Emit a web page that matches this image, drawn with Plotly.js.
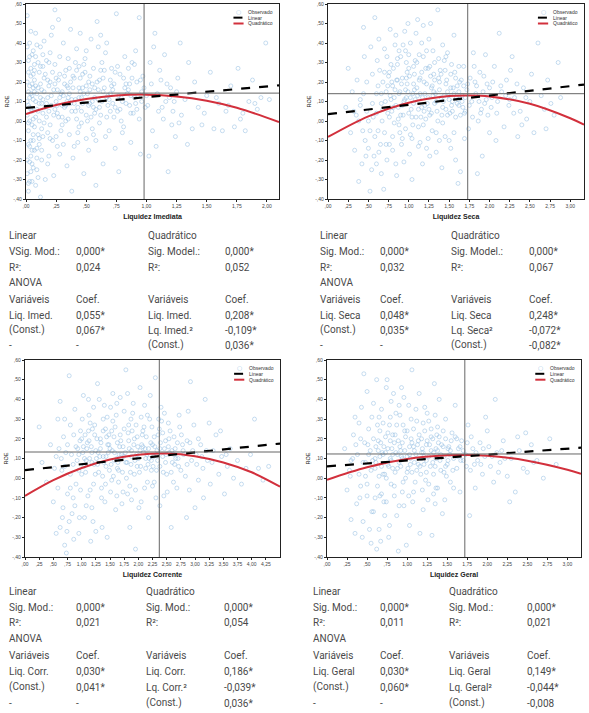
<!DOCTYPE html>
<html>
<head>
<meta charset="utf-8">
<script src="https://cdn.plot.ly/plotly-3.0.1.min.js"></script>
<style>
  body { margin: 0; background: #fff; }
  #chart { width: 589px; height: 713px; }
</style>
</head>
<body>
<div id="chart"></div>
<script>
// ROE axis, shared by the four panels
var roeTicks = [-0.4, -0.3, -0.2, -0.1, 0, 0.1, 0.2, 0.3, 0.4, 0.5, 0.6];
var roeLabels = ['-,40', '-,30', '-,20', '-,10', ',00', ',10', ',20', ',30', ',40', ',50', ',60'];

var imedTicks = [0, 0.25, 0.5, 0.75, 1, 1.25, 1.5, 1.75, 2];
var imedLabels = [',00', ',25', ',50', ',75', '1,00', '1,25', '1,50', '1,75', '2,00'];
var secaTicks = [0, 0.25, 0.5, 0.75, 1, 1.25, 1.5, 1.75, 2, 2.25, 2.5, 2.75, 3];
var secaLabels = [',00', ',25', ',50', ',75', '1,00', '1,25', '1,50', '1,75', '2,00', '2,25', '2,50', '2,75', '3,00'];
var corrTicks = [0, 0.25, 0.5, 0.75, 1, 1.25, 1.5, 1.75, 2, 2.25, 2.5, 2.75, 3, 3.25, 3.5, 3.75, 4, 4.25];
var corrLabels = [',00', ',25', ',50', ',75', '1,00', '1,25', '1,50', '1,75', '2,00', '2,25', '2,50', '2,75', '3,00', '3,25', '3,50', '3,75', '4,00', '4,25'];
var geralTicks = secaTicks;
var geralLabels = secaLabels;

var legendNames = ['Observado', 'Linear', 'Quadrático'];

// ---- Liquidez Imediata ----
var imedPts = [
  [0.01,0.20],[0.02,-0.05],[0.03,0.12],[0.02,0.31],[0.04,-0.18],[0.05,0.05],[0.01,-0.27],[0.03,0.40],[0.06,0.17],[0.04,-0.10],
  [0.02,0.08],[0.07,0.26],[0.05,-0.31],[0.08,0.02],[0.03,-0.21],[0.09,0.14],[0.06,0.36],[0.10,-0.07],[0.04,0.23],[0.07,-0.15],
  [0.11,0.09],[0.02,-0.36],[0.08,0.45],[0.12,0.19],[0.05,-0.02],[0.10,0.30],[0.13,-0.20],[0.06,0.11],[0.09,-0.25],[0.14,0.04],
  [0.01,0.54],[0.11,-0.12],[0.15,0.22],[0.08,-0.33],[0.12,0.38],[0.16,0.07],[0.13,-0.04],[0.03,0.00],[0.07,0.15],[0.14,0.28],
  [0.18,0.12],[0.20,-0.02],[0.22,0.25],[0.24,0.06],[0.26,0.16],[0.19,-0.18],[0.28,0.33],[0.30,0.02],[0.21,0.44],[0.32,0.19],
  [0.25,-0.08],[0.34,0.10],[0.27,0.52],[0.36,0.27],[0.23,-0.28],[0.38,0.05],[0.29,0.14],[0.40,0.22],[0.31,-0.12],[0.42,0.37],
  [0.33,0.08],[0.44,-0.03],[0.35,0.17],[0.46,0.12],[0.37,0.47],[0.48,0.29],[0.39,-0.19],[0.50,0.03],[0.41,0.11],[0.52,0.20],
  [0.43,-0.06],[0.54,0.42],[0.45,0.15],[0.56,0.07],[0.47,0.24],[0.58,-0.10],[0.49,0.32],[0.60,0.16],[0.51,0.00],[0.62,0.26],
  [0.53,0.09],[0.64,-0.22],[0.55,0.19],[0.66,0.35],[0.57,0.04],[0.68,0.13],[0.59,0.51],[0.70,0.21],[0.61,-0.01],[0.72,0.09],
  [0.63,0.30],[0.74,-0.14],[0.65,0.17],[0.76,0.05],[0.67,0.40],[0.78,0.24],[0.69,0.11],[0.80,-0.06],[0.71,0.18],[0.82,0.33],
  [0.73,0.02],[0.84,0.14],[0.75,0.55],[0.86,0.08],[0.77,-0.26],[0.88,0.22],[0.79,0.12],[0.90,0.29],[0.81,-0.03],[0.92,0.06],
  [0.83,0.19],[0.94,0.53],[0.85,0.27],[0.96,0.10],[0.87,-0.11],[0.98,0.17],[0.89,0.04],[0.91,0.36],[0.93,0.13],[0.95,-0.17],
  [0.97,0.23],[0.17,0.09],[0.19,0.18],[0.23,0.03],[0.27,0.21],[0.31,0.13],[0.35,0.01],[0.39,0.23],[0.43,0.07],[0.47,0.17],
  [0.51,0.14],[0.55,-0.04],[0.59,0.20],[0.63,0.10],[0.67,0.02],[0.71,0.27],[0.20,0.35],[0.26,-0.13],[0.34,-0.23],[0.44,0.28],
  [0.52,-0.15],[0.60,0.38],[0.38,-0.36],[0.16,-0.30],[0.58,-0.33],[0.66,-0.08],[0.12,-0.39],[0.24,0.57],[0.48,-0.27],
  [1.01,0.08],[1.03,0.30],[1.05,-0.05],[1.07,0.45],[1.09,0.14],[1.02,-0.18],[1.12,0.21],[1.14,0.01],[1.06,0.38],[1.16,0.10],
  [1.18,-0.26],[1.11,0.26],[1.20,0.17],[1.22,0.05],[1.15,0.34],[1.24,-0.08],[1.26,0.22],[1.19,0.12],[1.28,0.40],[1.21,-0.02],
  [1.04,0.19],[1.08,-0.13],[1.13,0.07],[1.25,0.15],[1.29,0.03],
  [1.32,0.11],[1.35,0.30],[1.38,-0.04],[1.40,0.20],[1.43,0.07],[1.46,-0.02],[1.50,0.13],[1.53,0.25],[1.56,-0.04],[1.60,0.09],
  [1.63,-0.05],[1.66,0.05],[1.70,0.18],[1.73,-0.03],[1.76,0.27],[1.78,0.01],[1.82,-0.05],[1.85,0.10],[1.88,0.21],[1.92,0.06],
  [1.95,0.12],[1.99,0.40],[2.02,0.11],[1.34,-0.12],[1.48,0.04],[1.58,0.12],[1.68,0.08],[1.80,0.04],[1.90,0.09]
];
var imedPtsCore = [
  [0.02,0.15],[0.04,0.27],[0.06,-0.07],[0.03,-0.13],[0.05,0.34],[0.08,0.10],[0.01,0.03],[0.09,-0.19],[0.07,0.21],[0.10,0.05],
  [0.12,0.28],[0.11,-0.09],[0.13,0.16],[0.15,-0.01],[0.14,0.11],[0.16,0.24],[0.18,-0.06],[0.17,0.31],[0.19,0.05],[0.21,0.13],
  [0.22,-0.10],[0.24,0.19],[0.25,0.10],[0.27,0.02],[0.28,0.24],[0.30,0.15],[0.29,-0.05],[0.32,0.07],[0.33,0.26],[0.35,0.12],
  [0.36,-0.07],[0.37,0.20],[0.40,0.09],[0.41,0.30],[0.42,0.01],[0.45,0.22],[0.46,0.05],[0.48,0.14],[0.50,-0.09],[0.49,0.25],
  [0.53,0.16],[0.54,0.02],[0.56,0.27],[0.57,0.12],[0.58,0.06],[0.61,0.21],[0.62,0.03],[0.64,0.15],[0.65,0.26],[0.68,0.08],
  [0.69,-0.05],[0.70,0.14],[0.73,0.19],[0.74,0.07],[0.76,0.28],[0.77,0.13],[0.79,0.00],[0.81,0.22],[0.83,0.09],[0.85,0.16],
  [0.87,0.04],[0.88,0.30],[0.90,0.12],[0.92,0.20],[0.94,0.01],[0.96,0.15],[0.99,0.07],[0.15,0.41],[0.22,0.48],[0.31,0.40],
  [0.45,0.45],[0.18,-0.22],[0.28,-0.17],[0.40,-0.13],[0.06,-0.24],[0.03,-0.31],[0.10,-0.29],[0.04,0.46],[0.09,0.39],[0.62,0.44],
  [0.05,0.13],[0.08,0.18],[0.11,0.00],[0.07,-0.03],[0.13,0.09],[0.20,0.20],[0.26,0.08],[0.34,0.18],[0.38,0.11],[0.44,0.17],
  [0.52,0.08],[0.60,0.11],[0.72,0.16],[0.80,0.10],[0.86,0.19],[1.00,0.13],[1.10,0.05],[1.17,0.19],[1.23,0.10],[1.27,-0.01]
];
var imedPtsDense = [
  [0.01,0.10],[0.02,-0.12],[0.03,0.18],[0.01,-0.20],[0.04,0.06],[0.02,0.25],[0.05,-0.15],[0.03,0.33],[0.06,0.01],[0.04,-0.26],
  [0.01,0.38],[0.05,0.19],[0.02,-0.01],[0.06,-0.10],[0.03,0.07],[0.07,0.29],[0.02,-0.32],[0.04,0.14],[0.06,0.24],[0.05,-0.22],
  [0.09,0.06],[0.10,0.17],[0.12,0.12],[0.14,-0.08],[0.15,0.15],[0.17,0.02],[0.18,0.21],[0.21,0.08],[0.23,0.16],[0.25,0.22],
  [0.26,0.04],[0.28,0.12],[0.30,0.08],[0.32,0.23],[0.33,0.00],[0.36,0.14],[0.37,0.09],[0.39,0.17],[0.41,0.05],[0.42,0.26],
  [0.44,0.12],[0.46,-0.01],[0.47,0.09],[0.50,0.18],[0.53,0.23],[0.55,0.10],[0.57,0.17],[0.61,0.07],[0.64,0.22],[0.67,0.12],
  [0.70,0.05],[0.74,0.25],[0.78,0.06],[0.82,0.17],[0.87,0.13],[0.91,0.09],[0.95,0.21],[0.08,0.33],[0.11,0.25],[0.14,0.34],
  [0.19,0.30],[0.24,0.29],[0.35,0.32],[0.50,0.36],[0.13,-0.15],[0.20,-0.09],[0.30,-0.02],[0.43,-0.11],[0.56,-0.07],[0.09,-0.14]
];
var imedLinX = [0, 2.1];
var imedLinY = [0.067, 0.183];
var imedQuadX = [0, 0.25, 0.5, 0.75, 1.0, 1.25, 1.5, 1.75, 2.1];
var imedQuadY = [0.036, 0.082, 0.113, 0.131, 0.135, 0.126, 0.104, 0.068, -0.005];
var imedMean = [0.98, 0.143];
var imedTable = [
  ['Linear', '', 'Quadrático', ''],
  ['VSig. Mod.:', '0,000*', 'Sig. Model.:', '0,000*'],
  ['R²:', '0,024', 'R²:', '0,052'],
  ['ANOVA', '', '', ''],
  ['Variáveis', 'Coef.', 'Variáveis', 'Coef.'],
  ['Liq. Imed.', '0,055*', 'Liq. Imed.', '0,208*'],
  ['(Const.)', '0,067*', 'Lq. Imed.²', '-0,109*'],
  ['-', '-', '(Const.)', '0,036*']
];

// ---- Liquidez Seca ----
var secaPts = [
  [0.22,0.07],[0.25,0.27],[0.28,-0.06],[0.30,0.15],[0.33,-0.15],[0.35,0.03],[0.38,-0.31],[0.40,0.11],[0.42,-0.22],[0.44,0.48],
  [0.46,-0.10],[0.48,0.20],[0.50,0.00],[0.52,-0.36],[0.45,0.33],[0.36,0.21],[0.55,0.09],[0.57,-0.18],[0.58,0.53],[0.60,0.14],
  [0.62,-0.05],[0.64,0.26],[0.66,-0.27],[0.68,0.06],[0.70,0.37],[0.72,-0.12],[0.74,0.18],[0.76,0.02],[0.78,0.29],[0.80,-0.08],
  [0.82,0.12],[0.84,0.44],[0.86,0.21],[0.88,-0.02],[0.90,0.33],[0.92,0.08],[0.94,-0.21],[0.96,0.16],[0.98,0.25],[1.00,0.04],
  [1.02,0.40],[1.04,-0.09],[1.06,0.19],[1.08,0.11],[1.10,0.30],[1.12,-0.03],[1.14,0.22],[1.16,0.07],[1.18,0.49],[1.20,0.14],
  [1.22,-0.14],[1.24,0.27],[1.26,0.03],[1.28,0.17],[1.30,0.36],[1.32,0.09],[1.34,-0.06],[1.36,0.57],[1.38,0.20],[1.40,0.12],
  [1.42,-0.01],[1.44,0.31],[1.46,0.06],[1.48,0.15],[1.50,-0.10],[1.52,0.24],[1.54,0.10],[1.56,0.44],[1.58,0.02],[1.60,0.18],
  [1.62,0.08],[1.64,-0.26],[1.66,0.13],[1.68,0.28],[1.70,0.05],[1.72,0.16],[1.74,-0.04],[1.76,0.22],[1.78,0.10],[1.80,0.35],
  [0.71,0.10],[0.75,0.23],[0.79,0.05],[0.83,0.16],[0.87,0.01],[0.91,0.19],[0.95,0.11],[0.99,0.15],[1.03,0.06],[1.07,0.24],
  [1.11,0.13],[1.15,0.02],[1.19,0.20],[1.23,0.09],[1.27,0.23],[1.31,0.15],[1.35,0.05],[1.39,0.26],[1.43,0.10],[1.47,0.21],
  [1.51,0.04],[1.55,0.17],[1.59,0.12],[1.63,0.20],[1.67,0.07],[0.81,0.27],[0.89,-0.06],[0.97,0.30],[1.05,-0.02],[1.13,0.34],
  [1.21,0.01],[1.29,-0.05],[1.37,0.32],[1.45,-0.08],[1.53,0.29],[0.93,0.39],[1.01,-0.17],[1.09,0.45],[1.17,-0.22],[0.73,-0.20],
  [0.85,-0.28],[0.61,0.31],[0.65,-0.12],[0.77,0.47],[1.25,0.42],[1.41,-0.24],[1.61,-0.32],[0.53,0.38],[1.11,0.52],[0.69,-0.35],
  [1.83,0.14],[1.86,0.00],[1.88,0.25],[1.91,-0.18],[1.94,0.09],[1.97,0.19],[2.00,-0.06],[2.03,0.12],[2.06,0.28],[2.09,0.04],
  [2.12,0.45],[2.15,0.15],[2.18,-0.03],[2.21,0.21],[2.24,0.08],[2.28,0.33],[2.31,0.12],[2.35,-0.08],[2.38,0.05],[2.42,0.17],
  [2.46,0.01],[2.50,0.10],[2.55,-0.06],[2.60,0.40],[2.64,0.13],[2.68,0.06],[2.72,0.21],[2.76,0.09],[2.80,0.03],[2.85,0.30],
  [2.88,0.12],[1.85,-0.27],[1.95,0.34],[2.08,-0.10],[2.26,0.26],[2.40,-0.02],[2.52,0.24],[2.70,-0.04],[1.90,0.06],[2.00,0.17]
];
var secaPtsCore = [
  [0.72,0.15],[0.74,0.04],[0.76,0.25],[0.78,0.11],[0.80,0.18],[0.82,-0.01],[0.84,0.08],[0.86,0.29],[0.88,0.14],[0.90,0.03],
  [0.92,0.22],[0.94,0.10],[0.96,-0.04],[0.98,0.19],[1.00,0.27],[1.02,0.12],[1.04,0.02],[1.06,0.09],[1.08,0.31],[1.10,0.17],
  [1.12,0.06],[1.14,0.14],[1.16,0.25],[1.18,-0.02],[1.20,0.08],[1.22,0.19],[1.24,0.12],[1.26,0.28],[1.28,0.04],[1.30,0.13],
  [1.32,0.21],[1.34,0.10],[1.36,0.00],[1.38,0.16],[1.40,0.24],[1.42,0.07],[1.44,0.13],[1.46,0.19],[1.48,0.03],[1.50,0.11],
  [1.52,0.17],[1.54,0.05],[1.56,0.14],[1.58,0.22],[1.60,0.09],[1.62,0.15],[1.64,0.03],[1.66,0.10],[1.68,0.18],[1.70,0.12],
  [0.50,-0.14],[0.54,-0.25],[0.58,-0.08],[0.47,-0.18],[0.60,-0.22],[0.43,-0.05],[0.56,0.02],[0.63,-0.16],[0.67,0.00],[0.40,0.08],
  [0.88,0.36],[0.95,0.46],[1.00,0.34],[1.16,0.40],[1.22,0.36],[1.27,0.50],[1.42,0.39],[1.48,0.35],[0.70,0.25],[0.83,0.39],
  [0.80,-0.15],[0.91,-0.12],[1.04,-0.30],[1.14,-0.11],[1.26,-0.18],[1.34,-0.16],[1.52,-0.14],[1.58,-0.20],[1.69,-0.09],[1.75,0.08],
  [1.79,0.02],[1.82,0.20],[1.87,0.10],[1.92,0.15],[1.98,0.03],[2.04,0.20],[2.10,0.10],[2.20,0.13],[2.30,0.04],[2.45,0.12],
  [0.62,0.18],[0.66,0.09],[0.68,0.20],[0.73,0.33],[0.79,0.20],[0.87,0.07],[0.97,0.22],[1.07,0.16],[1.19,0.05],[1.31,0.24]
];
var secaPtsDense = [
  [0.77,0.13],[0.81,0.07],[0.85,0.21],[0.89,0.15],[0.93,0.03],[0.97,0.12],[1.01,0.23],[1.05,0.14],[1.09,0.02],[1.13,0.21],
  [1.17,0.12],[1.21,0.27],[1.25,0.06],[1.29,0.18],[1.33,0.14],[1.37,0.22],[1.41,0.03],[1.45,0.26],[1.49,0.13],[1.53,0.08],
  [1.57,0.25],[1.61,0.11],[1.65,0.21],[1.69,0.04],[1.73,0.19],[0.86,0.32],[0.96,0.36],[1.06,0.28],[1.18,0.33],[1.32,0.30],
  [1.46,0.33],[1.62,0.28],[0.92,-0.09],[1.02,-0.07],[1.12,-0.13],[1.24,-0.09],[1.38,-0.10],[1.56,-0.06],[0.66,0.14],[0.60,0.04],
  [0.55,0.24],[0.48,0.05],[0.44,0.14],[0.38,0.00],[0.32,0.05],[0.52,-0.05],[0.70,-0.06],[0.76,-0.12],[1.84,0.18],[1.89,0.04],
  [1.96,0.11],[2.02,0.07],[2.14,0.18],[2.25,0.11],[2.34,0.19],[1.81,0.28],[1.93,0.23],[0.63,0.42],[0.99,0.50],[0.84,-0.22]
];
var secaLinX = [0, 3.17];
var secaLinY = [0.035, 0.187];
var secaQuadX = [0, 0.5, 1.0, 1.5, 1.75, 2.0, 2.5, 3.0, 3.17];
var secaQuadY = [-0.082, 0.024, 0.094, 0.128, 0.131, 0.126, 0.088, 0.014, -0.019];
var secaMean = [1.73, 0.140];
var secaTable = [
  ['Linear', '', 'Quadrático', ''],
  ['Sig. Mod.:', '0,000*', 'Sig. Model.:', '0,000*'],
  ['R²:', '0,032', 'R²:', '0,067'],
  ['ANOVA', '', '', ''],
  ['Variáveis', 'Coef.', 'Variáveis', 'Coef.'],
  ['Liq. Seca', '0,048*', 'Liq. Seca', '0,248*'],
  ['(Const.)', '0,035*', 'Lq. Seca²', '-0,072*'],
  ['-', '-', '(Const.)', '-0,082*']
];

// ---- Liquidez Corrente ----
var corrPts = [
  [0.25,0.26],[0.30,0.08],[0.38,-0.02],[0.45,0.17],[0.50,-0.12],[0.55,0.11],[0.58,0.30],[0.62,-0.25],[0.65,0.04],[0.68,0.21],
  [0.70,-0.34],[0.72,0.13],[0.75,-0.08],[0.78,0.52],[0.80,0.27],[0.83,-0.18],[0.85,0.07],[0.88,0.35],[0.90,-0.03],[0.93,0.15],
  [0.95,-0.28],[0.98,0.24],[1.00,0.02],[1.03,0.42],[1.05,0.10],[1.08,-0.14],[1.10,0.18],[1.13,0.32],[1.15,-0.06],[1.18,0.08],
  [1.20,-0.22],[1.23,0.27],[1.25,0.14],[1.28,0.48],[1.30,0.03],[1.33,0.20],[1.35,-0.10],[1.38,0.11],[1.40,0.37],[1.43,0.06],
  [1.45,-0.30],[1.48,0.22],[1.50,0.15],[1.53,-0.01],[1.55,0.29],[1.58,0.09],[1.60,-0.16],[1.63,0.18],[1.65,0.04],[1.68,0.41],
  [1.70,0.12],[1.73,-0.07],[1.75,0.25],[1.78,0.55],[1.80,0.08],[1.83,0.19],[1.85,-0.04],[1.88,0.14],[1.90,0.33],[1.93,0.02],
  [1.95,-0.36],[1.98,0.21],[2.00,0.10],[2.03,0.46],[2.05,-0.12],[2.08,0.16],[2.10,0.26],[2.13,0.05],[2.15,0.12],[2.18,-0.20],
  [2.20,0.30],[2.23,0.09],[2.25,0.17],[2.28,-0.02],[2.30,0.51],[2.33,0.14],[2.35,0.22],[2.38,0.06],[2.40,0.36],[2.43,0.11],
  [2.45,-0.09],[2.48,0.19],[2.50,0.02],[2.53,0.28],[2.55,0.13],[2.58,-0.25],[2.60,0.08],[2.63,0.21],[2.65,0.15],[2.68,-0.05],
  [2.70,0.10],[2.73,0.26],[2.75,0.04],[2.78,0.17],[2.80,0.12],
  [0.92,0.09],[0.97,0.19],[1.02,0.13],[1.07,0.03],[1.12,0.24],[1.17,0.16],[1.22,0.07],[1.27,0.20],[1.32,0.11],[1.37,0.01],
  [1.42,0.25],[1.47,0.13],[1.52,0.07],[1.57,0.21],[1.62,0.10],[1.67,0.16],[1.72,0.03],[1.77,0.13],[1.82,0.23],[1.87,0.07],
  [1.92,0.17],[1.97,0.12],[2.02,0.03],[2.07,0.22],[2.12,0.15],[2.17,0.07],[2.22,0.18],[2.27,0.11],[2.32,0.04],[2.37,0.25],
  [1.15,0.28],[1.45,0.31],[1.75,0.34],[2.05,0.31],[1.35,-0.05],[1.65,-0.02],[1.95,-0.06],[2.25,-0.04],[0.85,-0.10],[1.05,-0.20],
  [0.75,0.17],[0.67,-0.15],[0.62,0.39],[1.55,0.43],[1.25,-0.27],[1.85,-0.25],[0.73,-0.38],
  [2.83,0.01],[2.86,0.19],[2.90,-0.06],[2.94,0.09],[2.98,0.27],[3.02,0.12],[3.06,-0.01],[3.10,0.17],[3.14,0.05],[3.18,0.40],
  [3.22,0.09],[3.27,-0.03],[3.32,0.14],[3.37,0.22],[3.42,0.02],[3.47,0.11],[3.52,-0.08],[3.57,0.06],[3.62,0.15],[3.68,0.00],
  [3.75,0.09],[3.82,-0.03],[3.90,0.05],[3.98,0.12],[4.05,0.30],[4.12,0.05],[4.20,-0.01],[4.30,0.06],[2.88,0.34],[3.00,-0.15],
  [3.25,0.28],[2.92,0.49],[3.45,0.24],[2.85,-0.20],[3.15,-0.10]
];
var corrPtsCore = [
  [0.95,0.12],[1.00,0.20],[1.04,0.06],[1.09,0.15],[1.14,0.10],[1.19,0.25],[1.24,0.02],[1.29,0.13],[1.34,0.18],[1.39,0.08],
  [1.44,0.21],[1.49,0.04],[1.54,0.14],[1.59,0.26],[1.64,0.08],[1.69,0.19],[1.74,0.11],[1.79,0.00],[1.84,0.15],[1.89,0.24],
  [1.94,0.09],[1.99,0.16],[2.04,0.06],[2.09,0.13],[2.14,0.21],[2.19,0.10],[2.24,0.26],[2.29,0.16],[2.34,0.09],[2.39,0.18],
  [2.44,0.03],[2.49,0.12],[2.54,0.20],[2.59,0.14],[2.64,0.07],[2.69,0.18],[1.01,0.30],[1.21,0.36],[1.31,0.40],[1.51,0.36],
  [1.61,0.32],[1.81,0.43],[1.91,0.38],[2.11,0.37],[2.21,0.42],[2.41,0.29],[1.11,-0.09],[1.21,-0.03],[1.41,-0.12],[1.51,-0.07],
  [1.71,-0.13],[1.81,-0.08],[2.01,-0.15],[2.11,-0.05],[2.31,-0.10],[2.51,-0.07],[0.80,0.02],[0.78,-0.22],[0.88,-0.14],[0.98,-0.06],
  [0.70,0.06],[0.82,0.12],[0.74,-0.27],[0.86,-0.31],[0.96,-0.20],[1.16,-0.32],[1.36,-0.25],[0.66,-0.20],[0.60,0.15],[0.52,0.05],
  [2.56,0.24],[2.66,0.10],[2.76,0.22],[2.86,0.07],[2.96,0.14],[3.06,0.20],[3.20,0.14],[2.72,0.32],[2.62,-0.02],[2.46,0.33],
  [1.26,0.10],[1.46,0.17],[1.66,0.12],[1.86,0.03],[2.06,0.17],[2.26,0.06],[2.46,0.15],[1.06,0.22],[1.56,0.01],[1.96,0.27]
];
var corrPtsDense = [
  [1.03,0.16],[1.08,0.09],[1.13,0.19],[1.18,0.13],[1.23,0.22],[1.28,0.07],[1.33,0.15],[1.38,0.24],[1.43,0.11],[1.48,0.17],
  [1.53,0.24],[1.58,0.13],[1.63,0.05],[1.68,0.22],[1.73,0.16],[1.78,0.08],[1.83,0.27],[1.88,0.11],[1.93,0.20],[1.98,0.06],
  [2.03,0.14],[2.08,0.24],[2.13,0.10],[2.18,0.15],[2.23,0.04],[2.28,0.21],[2.33,0.12],[2.38,0.15],[2.43,0.23],[2.48,0.08],
  [2.53,0.16],[2.58,0.03],[1.12,0.40],[1.38,0.30],[1.62,0.38],[1.87,0.30],[2.16,0.32],[2.36,0.30],[1.18,-0.15],[1.42,-0.03],
  [1.62,-0.09],[1.88,-0.11],[2.16,-0.02],[2.38,-0.14],[0.90,0.16],[0.95,0.04],[0.86,0.22],[0.80,-0.05],[0.64,0.10],[0.70,0.30],
  [2.63,0.12],[2.71,0.06],[2.79,0.14],[2.91,0.18],[3.03,0.07],[3.12,0.11],[3.30,0.08],[3.55,0.12],[0.58,-0.05],[0.55,-0.28]
];
var corrLinX = [0, 4.5];
var corrLinY = [0.041, 0.176];
var corrQuadX = [0, 0.5, 1.0, 1.5, 2.0, 2.5, 3.0, 3.5, 4.0, 4.5];
var corrQuadY = [-0.090, -0.010, 0.052, 0.095, 0.119, 0.125, 0.112, 0.080, 0.030, -0.043];
var corrMean = [2.37, 0.133];
var corrTable = [
  ['Linear', '', 'Quadrático', ''],
  ['Sig. Mod.:', '0,000*', 'Sig. Mod.:', '0,000*'],
  ['R²:', '0,021', 'R²:', '0,054'],
  ['ANOVA', '', '', ''],
  ['Variáveis', 'Coef.', 'Variáveis', 'Coef.'],
  ['Liq. Corr.', '0,030*', 'Liq. Corr.', '0,186*'],
  ['(Const.)', '0,041*', 'Lq. Corr.²', '-0,039*'],
  ['-', '-', '(Const.)', '0,036*']
];

// ---- Liquidez Geral ----
var geralPts = [
  [0.22,0.15],[0.25,-0.06],[0.28,0.04],[0.30,-0.21],[0.32,0.10],[0.35,0.31],[0.37,-0.13],[0.40,0.02],[0.42,0.20],[0.44,-0.30],
  [0.46,0.53],[0.48,0.08],[0.50,-0.03],[0.52,0.25],[0.54,0.14],[0.56,-0.17],[0.58,0.38],[0.60,0.05],[0.62,-0.36],[0.64,0.19],
  [0.66,0.11],[0.68,-0.08],[0.70,0.28],[0.72,0.02],[0.74,0.46],[0.76,0.15],[0.78,-0.24],[0.80,0.09],[0.82,0.22],[0.84,-0.04],
  [0.86,0.33],[0.88,0.12],[0.90,-0.14],[0.92,0.06],[0.94,0.18],[0.96,0.41],[0.98,0.00],[1.00,0.24],[1.02,-0.09],[1.04,0.10],
  [1.06,0.55],[1.08,0.16],[1.10,-0.02],[1.12,0.29],[1.14,0.07],[1.16,-0.28],[1.18,0.20],[1.20,0.13],[1.22,0.36],[1.24,0.03],
  [1.26,-0.11],[1.28,0.17],[1.30,0.25],[1.32,0.08],[1.34,0.48],[1.36,-0.05],[1.38,0.14],[1.40,0.21],[1.42,0.04],[1.44,-0.18],
  [1.46,0.11],[1.48,0.30],[1.50,0.07],[1.52,0.16],[1.54,-0.02],[1.56,0.23],[1.58,0.10],[1.60,0.37],[1.62,0.05],[1.64,0.15],
  [1.66,-0.07],[1.68,0.19],[1.70,0.09],
  [0.57,0.09],[0.61,0.16],[0.65,0.01],[0.69,0.13],[0.73,0.21],[0.77,0.06],[0.81,0.15],[0.85,0.03],[0.89,0.19],[0.93,0.11],
  [0.97,0.14],[1.01,0.05],[1.05,0.20],[1.09,0.08],[1.13,0.17],[1.17,0.02],[1.21,0.11],[1.25,0.19],[1.29,0.06],[1.33,0.13],
  [1.37,0.22],[1.41,0.09],[1.45,0.16],[1.49,0.01],[1.53,0.12],[0.63,0.27],[0.79,0.31],[0.95,0.27],[1.11,0.35],[1.27,0.29],
  [0.71,-0.12],[0.87,-0.19],[1.03,-0.24],[1.19,-0.06],[1.35,-0.13],[0.53,-0.26],[0.67,-0.32],[0.83,0.43],[0.99,-0.34],[1.31,-0.29],
  [0.43,0.36],[0.75,0.50],
  [1.73,0.12],[1.76,0.27],[1.79,0.04],[1.82,0.15],[1.85,-0.05],[1.88,0.09],[1.91,0.18],[1.94,0.02],[1.97,0.11],[2.00,0.24],
  [2.04,0.06],[2.08,-0.02],[2.12,0.13],[2.16,0.08],[2.20,0.19],[2.25,0.01],[2.30,0.10],[2.35,-0.07],[2.40,0.14],[2.45,0.05],
  [2.50,0.03],[2.55,0.17],[2.62,0.09],[2.70,0.00],[2.78,0.20],[2.86,0.07],[1.78,-0.19],[1.98,0.31],[2.28,-0.12],[2.10,0.40],
  [2.48,0.23]
];
var geralPtsCore = [
  [0.52,0.12],[0.55,0.04],[0.58,0.20],[0.60,0.10],[0.63,-0.04],[0.66,0.24],[0.68,0.06],[0.71,0.16],[0.74,0.00],[0.76,0.23],
  [0.79,0.10],[0.82,0.05],[0.84,0.18],[0.87,0.27],[0.90,0.08],[0.92,0.14],[0.95,-0.02],[0.98,0.21],[1.00,0.11],[1.03,0.16],
  [1.06,0.03],[1.08,0.25],[1.11,0.12],[1.14,0.19],[1.16,0.06],[1.19,0.15],[1.22,0.24],[1.24,0.09],[1.27,-0.03],[1.30,0.14],
  [1.32,0.20],[1.35,0.06],[1.38,0.26],[1.40,0.11],[1.43,0.17],[1.46,0.03],[1.48,0.20],[1.51,0.09],[1.54,0.14],[1.57,0.04],
  [1.60,0.21],[1.63,0.11],[1.66,0.16],[0.56,0.31],[0.68,0.35],[0.80,0.39],[0.91,0.32],[1.02,0.37],[1.15,0.43],[1.25,0.33],
  [1.40,0.40],[0.60,-0.10],[0.72,-0.19],[0.84,-0.09],[0.96,-0.14],[1.08,-0.07],[1.20,-0.16],[1.33,-0.08],[1.47,-0.11],[1.58,-0.05],
  [0.38,0.12],[0.41,-0.10],[0.47,0.18],[0.35,-0.28],[0.45,-0.22],[0.55,-0.33],[0.65,-0.26],[0.77,-0.30],[0.89,-0.37],[0.50,0.44],
  [0.62,0.50],[0.93,0.46],[0.33,0.22],[0.29,0.01],[0.40,0.28],[1.70,0.14],[1.74,0.06],[1.80,0.21],[1.86,0.13],[1.92,0.07],
  [2.02,0.16],[2.14,0.03],[2.22,0.10],[2.38,0.21],[2.58,0.08],[0.70,0.12],[0.86,0.13],[1.04,0.07],[1.18,0.10],[1.36,0.15]
];
var geralPtsDense = [
  [0.61,0.08],[0.64,0.14],[0.67,0.18],[0.70,0.02],[0.73,0.13],[0.76,0.07],[0.79,0.19],[0.82,0.12],[0.85,0.22],[0.88,0.05],
  [0.91,0.16],[0.94,0.10],[0.97,0.24],[1.00,0.03],[1.03,0.12],[1.06,0.18],[1.09,0.14],[1.12,0.04],[1.15,0.22],[1.18,0.13],
  [1.21,0.07],[1.24,0.17],[1.27,0.11],[1.30,0.21],[1.33,0.02],[1.36,0.10],[1.39,0.18],[1.42,0.12],[1.45,0.24],[1.48,0.06],
  [1.51,0.15],[1.55,0.19],[0.65,0.31],[0.78,0.27],[0.90,0.37],[1.05,0.30],[1.20,0.28],[1.35,0.32],[0.66,-0.09],[0.80,-0.03],
  [0.94,-0.07],[1.07,-0.12],[1.23,-0.01],[1.38,-0.05],[0.48,0.01],[0.51,0.17],[0.45,0.08],[0.42,-0.04],[0.36,0.17],[0.30,0.09],
  [1.62,0.20],[1.67,0.09],[1.75,0.18],[1.84,0.07],[1.95,0.15],[2.06,0.11],[2.18,0.14],[0.58,-0.17],[0.74,-0.12],[0.50,-0.09]
];
var geralLinX = [0, 3.17];
var geralLinY = [0.060, 0.155];
var geralQuadX = [0, 0.5, 1.0, 1.5, 1.75, 2.0, 2.5, 3.0, 3.17];
var geralQuadY = [-0.008, 0.056, 0.097, 0.116, 0.118, 0.114, 0.089, 0.043, 0.022];
var geralMean = [1.72, 0.123];
var geralTable = [
  ['Linear', '', 'Quadrático', ''],
  ['Sig. Mod.:', '0,000*', 'Sig. Mod.:', '0,000*'],
  ['R²:', '0,011', 'R²:', '0,021'],
  ['ANOVA', '', '', ''],
  ['Variáveis', 'Coef.', 'Variáveis', 'Coef.'],
  ['Liq. Geral', '0,030*', 'Liq. Geral', '0,149*'],
  ['(Const.)', '0,060*', 'Lq. Geral²', '-0,044*'],
  ['-', '-', '(Const.)', '-0,008']
];

var W = 589, H = 713;
var panels = [
  {title: 'Liquidez Imediata', pts: imedPts.concat(imedPtsCore, imedPtsDense), linX: imedLinX, linY: imedLinY, qX: imedQuadX, qY: imedQuadY,
   mean: imedMean, ticks: imedTicks, labels: imedLabels, xmax: 2.1, table: imedTable,
   box: [26, 279, 4, 199], cols: [7, 74, 146, 223], rows: [235, 251, 267, 282, 299, 315, 330, 345]},
  {title: 'Liquidez Seca', pts: secaPts.concat(secaPtsCore, secaPtsDense), linX: secaLinX, linY: secaLinY, qX: secaQuadX, qY: secaQuadY,
   mean: secaMean, ticks: secaTicks, labels: secaLabels, xmax: 3.17, table: secaTable,
   box: [328, 584, 4, 199], cols: [318, 378, 449, 527], rows: [235, 251, 267, 282, 299, 315, 330, 345]},
  {title: 'Liquidez Corrente', pts: corrPts.concat(corrPtsCore, corrPtsDense), linX: corrLinX, linY: corrLinY, qX: corrQuadX, qY: corrQuadY,
   mean: corrMean, ticks: corrTicks, labels: corrLabels, xmax: 4.5, table: corrTable,
   box: [25, 280, 360, 557], cols: [7, 74, 144, 222], rows: [591, 607, 622, 638, 655, 671, 687, 703]},
  {title: 'Liquidez Geral', pts: geralPts.concat(geralPtsCore, geralPtsDense), linX: geralLinX, linY: geralLinY, qX: geralQuadX, qY: geralQuadY,
   mean: geralMean, ticks: geralTicks, labels: geralLabels, xmax: 3.17, table: geralTable,
   box: [327, 581, 360, 557], cols: [311, 378, 447, 525], rows: [591, 607, 622, 638, 655, 671, 687, 703]}
];

var data = [];
var shapes = [];
var annotations = [];
var layout = {
  width: W, height: H,
  margin: {l: 0, r: 0, t: 0, b: 0, pad: 0},
  paper_bgcolor: '#fff', plot_bgcolor: '#fff',
  showlegend: false,
  font: {family: 'Liberation Sans, Arial, sans-serif', color: '#333'}
};

panels.forEach(function(p, i) {
  var n = i === 0 ? '' : String(i + 1);
  var xa = 'x' + n, ya = 'y' + n;

  data.push({
    x: p.pts.map(function(d) { return d[0]; }),
    y: p.pts.map(function(d) { return d[1]; }),
    xaxis: xa, yaxis: ya,
    type: 'scatter', mode: 'markers', name: legendNames[0],
    marker: {symbol: 'circle-open', size: 4, color: 'rgba(140,185,225,0.55)', line: {width: 0.9}}
  });
  data.push({
    x: p.qX, y: p.qY, xaxis: xa, yaxis: ya,
    type: 'scatter', mode: 'lines', name: legendNames[2],
    line: {color: '#d2303c', width: 2, shape: 'spline'}
  });
  data.push({
    x: p.linX, y: p.linY, xaxis: xa, yaxis: ya,
    type: 'scatter', mode: 'lines', name: legendNames[1],
    line: {color: '#000', width: 2.2, dash: 'dash'}
  });

  var b = p.box;
  layout['xaxis' + n] = {
    domain: [b[0] / W, b[1] / W], anchor: ya,
    range: [0, p.xmax], tickvals: p.ticks, ticktext: p.labels,
    tickfont: {size: 5, color: '#444'}, ticks: 'outside', ticklen: 2, tickcolor: '#222',
    showline: true, mirror: true, linecolor: '#222', linewidth: 1.2,
    showgrid: false, zeroline: false,
    title: {text: '<b>' + p.title + '</b>', font: {size: 7, color: '#222'}, standoff: 5}
  };
  layout['yaxis' + n] = {
    domain: [1 - b[3] / H, 1 - b[2] / H], anchor: xa,
    range: [-0.4, 0.6], tickvals: roeTicks, ticktext: roeLabels,
    tickfont: {size: 5, color: '#444'}, ticks: 'outside', ticklen: 2, tickcolor: '#222',
    showline: true, mirror: true, linecolor: '#222', linewidth: 1.2,
    showgrid: false, zeroline: false,
    title: {text: 'ROE', font: {size: 5.5, color: '#222'}, standoff: 3}
  };

  // mean reference lines
  shapes.push({type: 'line', xref: xa, yref: ya + ' domain', x0: p.mean[0], x1: p.mean[0], y0: 0, y1: 1,
    line: {color: '#666', width: 1}});
  shapes.push({type: 'line', xref: xa + ' domain', yref: ya, x0: 0, x1: 1, y0: p.mean[1], y1: p.mean[1],
    line: {color: '#666', width: 1}});

  // legend inside the plot
  var lx0 = 0.82, lx1 = 0.86, ltx = 0.87, lys = [0.96, 0.93, 0.90];
  annotations.push({xref: xa + ' domain', yref: ya + ' domain', x: (lx0 + lx1) / 2, y: lys[0],
    text: '○', showarrow: false, font: {size: 6, color: 'rgba(125,175,220,0.8)', family: 'DejaVu Sans'},
    xanchor: 'center', yanchor: 'middle'});
  shapes.push({type: 'line', xref: xa + ' domain', yref: ya + ' domain', x0: lx0, x1: lx1, y0: lys[1], y1: lys[1],
    line: {color: '#000', width: 2, dash: 'dash'}});
  shapes.push({type: 'line', xref: xa + ' domain', yref: ya + ' domain', x0: lx0, x1: lx1, y0: lys[2], y1: lys[2],
    line: {color: '#d2303c', width: 2}});
  legendNames.forEach(function(name, k) {
    annotations.push({xref: xa + ' domain', yref: ya + ' domain', x: ltx, y: lys[k],
      text: name, showarrow: false, font: {size: 5, color: '#333'},
      xanchor: 'left', yanchor: 'middle'});
  });

  // statistics table under each chart
  p.table.forEach(function(row, r) {
    row.forEach(function(cell, c) {
      if (cell === '') return;
      annotations.push({xref: 'paper', yref: 'paper', x: p.cols[c] / W, y: 1 - p.rows[r] / H,
        text: cell, showarrow: false, xanchor: 'left', yanchor: 'middle',
        font: {family: 'Roboto, sans-serif', size: 10, color: '#4a4a4a'}});
    });
  });
});

layout.shapes = shapes;
layout.annotations = annotations;

Plotly.newPlot('chart', data, layout, {staticPlot: true, displayModeBar: false});
</script>
</body>
</html>
